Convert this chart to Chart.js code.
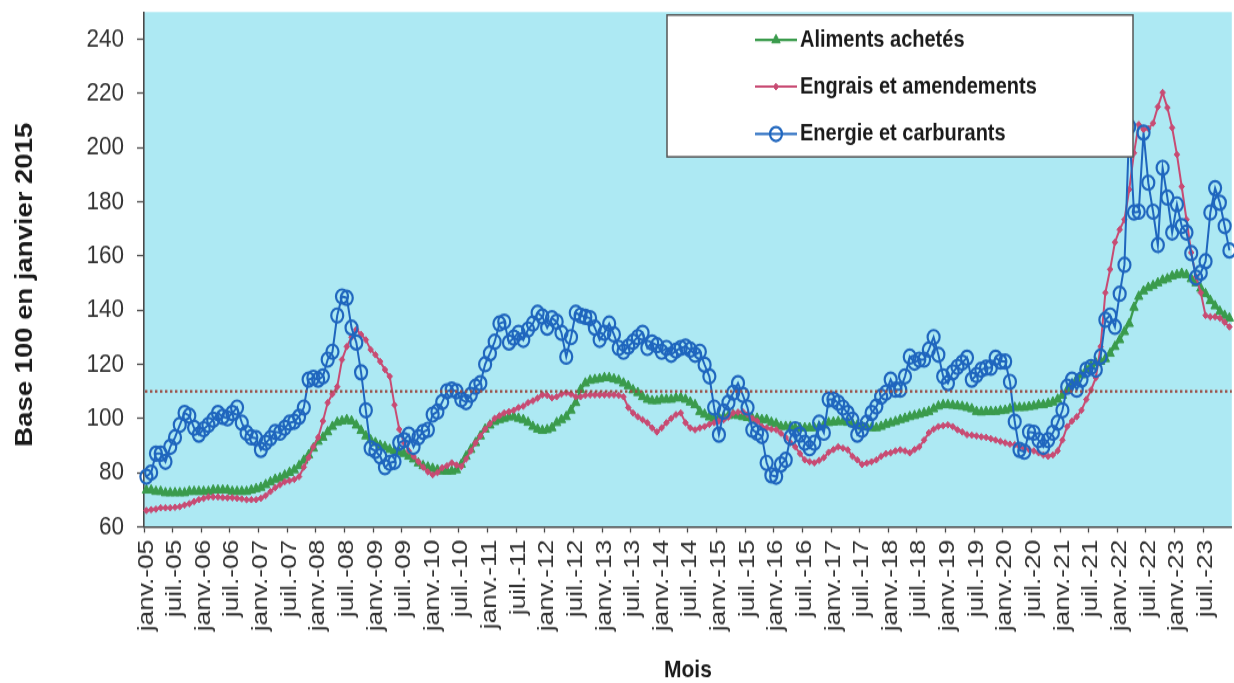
<!DOCTYPE html>
<html lang="fr">
<head>
<meta charset="utf-8">
<title>Prix des moyens de production agricole</title>
<script src="https://cdn.jsdelivr.net/npm/chart.js@4.4.1/dist/chart.umd.min.js"></script>
<style>
  html, body { margin: 0; padding: 0; background: #ffffff; overflow: hidden; width: 1234px; height: 683px; }
  /* the chart is laid out on a 584px-high canvas and stretched to the full page height */
  #frame { width: 1240px; height: 584px; transform: scaleY(1.1695); transform-origin: 0 0; }
  canvas { display: block; }
</style>
</head>
<body>
<div id="frame"><canvas id="chart" width="1240" height="584"></canvas></div>
<script>
// ---- categories ----
const MONTH_NAMES = ['janv.', 'févr.', 'mars', 'avr.', 'mai', 'juin', 'juil.', 'août', 'sept.', 'oct.', 'nov.', 'déc.'];
const FIRST_YEAR = 2005;
const LAST_YEAR = 2023;
const MONTHS = [];
for (let y = FIRST_YEAR; y <= LAST_YEAR; y++) {
  for (const m of MONTH_NAMES) MONTHS.push(m + '-' + String(y).slice(2));
}
// months that carry a tick label on the time axis
const LABELLED_MONTHS = ['janv.', 'juil.'];

// ---- value axis ----
const Y_MIN = 60;
const Y_MAX = 250;
const Y_STEP = 20;
const REF_LEVEL = 110;

// ---- series (base 100 en janvier 2015), one value per month, janv. 2005 -> déc. 2023 ----
const ALIMENTS = [
  73.5, 73.5, 73, 73, 72.5, 72.5, 72.5, 72.5, 72.5, 73, 73, 73,
  73, 73, 73.5, 73.5, 73.5, 73.5, 73, 73, 73, 73, 73.5, 74,
  74.5, 75.5, 76.5, 77.5, 78, 79, 80, 81, 82.5, 84.5, 86.5, 89,
  91.5, 93, 95, 97, 98.5, 99, 99.5, 99, 97.5, 95.5, 93.5, 92,
  91, 90, 89.5, 88.5, 88, 87.5, 87, 86, 85, 83.5, 82.5, 82,
  81.5, 81, 80.5, 80.5, 80.5, 81, 83, 86, 88.5, 91, 93.5, 96,
  97.5, 98.8, 99.5, 100, 100.5, 100.6, 100, 99.5, 98.5, 97, 96, 95.5,
  95.8, 96.5, 98.4, 99.5, 100.6, 103, 105.8, 110.6, 113, 114, 114.3, 114.6,
  115, 115, 114.5, 114, 113, 112, 110.5, 109.5, 108, 107, 106.5, 106.5,
  107, 107, 107, 107.5, 107.6, 107, 106, 105, 102.5, 101.5, 100.5, 100,
  100.3, 100.6, 101, 101.4, 101, 100.6, 100.3, 100, 100, 99.5, 99.5, 98.5,
  98, 97, 97, 97, 96.5, 96.5, 96.5, 96.5, 96.5, 97, 97.5, 98.4,
  98.6, 98.8, 98.8, 98.5, 98, 97.5, 97, 96.8, 96.5, 96.5, 97, 97.8,
  98.3, 98.8, 99.5, 100, 100.6, 101, 101.5, 102, 102.5, 103.5, 104.5, 105,
  105, 104.8, 104.6, 104.4, 104, 103.5, 102.5, 102.3, 102.5, 102.5, 102.5, 102.8,
  103, 103.5, 104, 104, 104, 104.3, 104.5, 105, 105, 105.5, 106, 107,
  108.5, 110.5, 112.5, 114.5, 116, 118, 119.5, 120.5, 121, 122, 124, 126.5,
  129, 132, 135, 141, 145, 147, 148.3, 149, 150, 151, 151.5, 152.5,
  153, 153.5, 153, 151.5, 150, 148, 146, 143.5, 141.5, 139.5, 138, 137
];

const ENGRAIS = [
  66, 66.3, 66.5, 67, 67, 67, 67.2, 67.4, 68, 68.5, 69.3, 70,
  70.5, 71, 71, 71, 70.8, 70.7, 70.7, 70.5, 70.3, 70, 70, 70,
  70.5, 71.5, 73, 74.4, 75.5, 76.6, 77, 77.5, 78.5, 82, 85.5, 89.5,
  93, 99, 105.8, 109, 111.7, 121.7, 126.5, 130, 132.8, 131, 129, 125.4,
  123.5, 121, 118, 115.5, 105, 96, 91, 88, 86, 84, 82, 80.3,
  79.2, 80, 81.8, 82.5, 83.6, 82.8, 82.2, 85, 88, 91, 93.5, 96,
  98, 100, 101, 102, 102.5, 103, 104, 104.5, 105.8, 106.5, 107.5, 108.7,
  108.5, 107.6, 108, 109, 109.5, 109, 108, 108, 108.5, 108.7, 108.7, 108.7,
  108.7, 108.7, 108.7, 108.5, 108, 104, 102, 100.6, 99.5, 98.4, 96.5, 95,
  96.5, 98.4, 100, 101.4, 102, 98.4, 96.5, 95.8, 96.5, 97, 97.8, 98.4,
  99, 99.5, 100.5, 102, 102.3, 102.5, 101.5, 100, 99, 97, 96.5, 96,
  95.8, 94.5, 93, 91, 89.5, 87, 84.7, 84, 83.6, 84.5, 85.5, 87.5,
  88.5, 89.5, 89, 88.4, 86, 84.7, 83, 83.5, 84, 84.7, 86, 87,
  87.3, 88, 88.4, 88, 87.3, 88.5, 89.5, 92, 94.7, 96, 97, 97.3,
  97.6, 97, 95.8, 95, 94, 93.8, 93.5, 93.2, 93, 92.5, 92, 91.5,
  91, 90.5, 90.3, 89.5, 89, 88.5, 88, 87.3, 86.5, 86, 86.5, 88,
  92, 97, 99, 100.6, 103, 107, 110.5, 115, 126.5, 146.4, 155, 165,
  169.7, 173.4, 184.5, 198, 208.5, 206.6, 207, 209, 215, 220.3, 214.7, 207.3,
  197.4, 185.6, 173.4, 161.2, 152.3, 146.4, 138, 137.5, 137.5, 137, 135.5, 133.8
];

const ENERGIE = [
  78.5, 80, 87, 87, 84, 89.5, 93, 97.6, 102, 101, 96.5, 94,
  96, 97.6, 99.5, 102, 100.6, 100, 102, 104, 98.4, 94.7, 93, 92.7,
  88.4, 91, 92.7, 95, 94.7, 96.5, 98.4, 98.8, 100.6, 104, 114.3, 115,
  114.3, 115.5, 121.7, 124.6, 138, 145, 144.5, 133.5, 128, 117, 103, 89,
  88, 86, 82, 83.6, 84, 91, 92, 94, 89.5, 93, 95, 95.8,
  101.4, 102.5, 106, 110, 110.6, 110, 107, 106, 108.7, 111.7, 113, 120,
  124, 128.3, 135, 135.7, 128, 129.8, 131.6, 129, 132.8, 135, 139, 137.6,
  133.5, 137, 135.7, 131.6, 122.8, 130, 139, 138, 137.5, 137, 133.5, 129,
  131.6, 135, 131, 126, 124.6, 126.5, 128.3, 130, 131.6, 126, 128, 127,
  124.6, 126, 123.5, 125, 126, 126.5, 125.4, 123.5, 124.6, 119.8, 115.5, 104,
  94, 102.5, 105.8, 109.5, 113, 108.7, 104, 95.8, 94.7, 93.5, 83.6, 79,
  78.5, 83, 84.7, 93, 96, 94, 91, 89, 91, 98.4, 94.7, 107,
  107, 105.8, 104, 102, 99.5, 94, 95.8, 98.4, 102, 104.4, 108, 109.5,
  114.3, 110.6, 110.6, 115.5, 122.8, 120.6, 121.7, 121.7, 125.4, 130, 123.5, 115.5,
  113, 117, 119, 120.6, 122.4, 114.3, 116, 118, 118.7, 118.7, 122.4, 121,
  121, 113.5, 98.8, 88.4, 87.7, 95, 94.7, 92, 89.5, 92, 94.7, 98.4,
  103, 111.7, 114.3, 110.6, 114.3, 118, 119, 118, 122.8, 136.4, 138, 133.8,
  146, 156.7, 207.7, 176, 176.3, 205.5, 187, 176.3, 164, 192.5, 181.5, 168.6,
  179, 171, 168.6, 161, 152, 153.8, 158, 176, 185, 179.6, 171, 162
];

const FONT = '"Liberation Sans", Arial, Helvetica, sans-serif';
const PLOT_BG = '#ade9f3';
const AXIS_COLOR = '#4a4a4a';
const TEXT_COLOR = '#333333';

// geometry of the boxed legend (canvas pixels)
const LEGEND_LAYOUT = {
  left: 667, top: 12.8, width: 466, height: 121.3,
  rows: [34.2, 74.1, 114.6],
  sampleFrom: 755, sampleTo: 797, textX: 800
};

// light blue plot background
const plotBackground = {
  id: 'plotBackground',
  beforeDraw(chart) {
    const { ctx, chartArea: a } = chart;
    ctx.save();
    ctx.fillStyle = PLOT_BG;
    ctx.fillRect(a.left, a.top, a.right - a.left, a.bottom - a.top);
    ctx.restore();
  }
};

// dotted horizontal reference level
const referenceLine = {
  id: 'referenceLine',
  afterDatasetsDraw(chart) {
    const { ctx, chartArea: a, scales } = chart;
    const y = scales.y.getPixelForValue(REF_LEVEL);
    ctx.save();
    ctx.strokeStyle = '#9a4a40';
    ctx.lineWidth = 2.2;
    ctx.setLineDash([2.4, 2.6]);
    ctx.beginPath();
    ctx.moveTo(a.left + 1, y);
    ctx.lineTo(a.right, y);
    ctx.stroke();
    ctx.restore();
  }
};

// boxed legend in the upper part of the plot
const boxedLegend = {
  id: 'boxedLegend',
  afterDraw(chart) {
    const L = LEGEND_LAYOUT;
    const { ctx } = chart;
    ctx.save();
    ctx.fillStyle = '#ffffff';
    ctx.fillRect(L.left, L.top, L.width, L.height);
    ctx.strokeStyle = '#555555';
    ctx.lineWidth = 1.5;
    ctx.strokeRect(L.left, L.top, L.width, L.height);
    chart.data.datasets.forEach((ds, i) => {
      const y = L.rows[i];
      const cx = (L.sampleFrom + L.sampleTo) / 2;
      ctx.setLineDash([]);
      ctx.strokeStyle = ds.borderColor;
      ctx.lineWidth = ds.borderWidth;
      ctx.beginPath();
      ctx.moveTo(L.sampleFrom, y);
      ctx.lineTo(L.sampleTo, y);
      ctx.stroke();
      ctx.fillStyle = ds.pointBackgroundColor;
      ctx.strokeStyle = ds.pointBorderColor;
      ctx.lineWidth = ds.pointBorderWidth;
      Chart.helpers.drawPoint(ctx, {
        pointStyle: ds.pointStyle,
        radius: ds.pointRadius,
        borderWidth: ds.pointBorderWidth,
        rotation: 0
      }, cx, y);
      ctx.fillStyle = '#1a1a1a';
      ctx.font = 'bold 20px ' + FONT;
      ctx.textAlign = 'left';
      ctx.textBaseline = 'middle';
      ctx.fillText(ds.label, L.textX, y);
    });
    ctx.restore();
  }
};

new Chart(document.getElementById('chart'), {
  type: 'line',
  data: {
    labels: MONTHS,
    datasets: [
      {
        label: 'Aliments achetés',
        data: ALIMENTS,
        borderColor: '#3a9b4c',
        backgroundColor: '#3a9b4c',
        borderWidth: 2.2,
        pointStyle: 'triangle',
        pointRadius: 4.8,
        pointBackgroundColor: '#3a9b4c',
        pointBorderColor: '#3a9b4c',
        pointBorderWidth: 1,
        order: 3,
        clip: false
      },
      {
        label: 'Engrais et amendements',
        data: ENGRAIS,
        borderColor: '#c84b73',
        backgroundColor: '#c84b73',
        borderWidth: 2,
        pointStyle: 'rectRot',
        pointRadius: 2.8,
        pointBackgroundColor: '#c84b73',
        pointBorderColor: '#c84b73',
        pointBorderWidth: 1,
        order: 2,
        clip: false
      },
      {
        label: 'Energie et carburants',
        data: ENERGIE,
        borderColor: '#1f66be',
        backgroundColor: '#1f66be',
        borderWidth: 2,
        pointStyle: 'circle',
        pointRadius: 6,
        pointBackgroundColor: 'rgba(0,0,0,0)',
        pointBorderColor: '#1f66be',
        pointBorderWidth: 2.2,
        order: 1,
        clip: false
      }
    ]
  },
  options: {
    responsive: false,
    animation: false,
    devicePixelRatio: 1,
    events: [],
    layout: { padding: { top: 10.3, left: 0, right: 0, bottom: 0 } },
    elements: { line: { tension: 0 } },
    scales: {
      x: {
        type: 'category',
        offset: true,
        afterFit(s) { s.height = 133.6; s.paddingLeft = 0; s.paddingRight = 0; },
        ticks: {
          autoSkip: false,
          minRotation: 90,
          maxRotation: 90,
          padding: 6,
          color: TEXT_COLOR,
          font: { size: 22.5, family: FONT },
          callback(value) {
            const lab = this.getLabelForValue(value);
            return LABELLED_MONTHS.some(m => lab.startsWith(m + '-')) ? lab : '';
          }
        },
        grid: {
          offset: true,
          drawOnChartArea: false,
          drawTicks: true,
          tickLength: 5,
          tickWidth: 1.3,
          tickColor: c => (c.index % 6 === 0 ? AXIS_COLOR : 'rgba(0,0,0,0)')
        },
        border: { display: true, color: AXIS_COLOR, width: 1.6 },
        title: {
          display: true,
          text: 'Mois',
          color: '#1a1a1a',
          font: { size: 21, weight: 'bold', family: FONT, lineHeight: 1 },
          padding: { top: 0, bottom: 0 }
        }
      },
      y: {
        min: Y_MIN,
        max: Y_MAX,
        afterFit(s) { s.width = 144; s.paddingTop = 0; s.paddingBottom = 0; },
        ticks: {
          stepSize: Y_STEP,
          includeBounds: false,
          padding: 13,
          color: TEXT_COLOR,
          font: { size: 22.5, family: FONT }
        },
        grid: {
          drawOnChartArea: false,
          drawTicks: true,
          tickLength: 7,
          tickWidth: 1.3,
          tickColor: AXIS_COLOR
        },
        border: { display: true, color: AXIS_COLOR, width: 1.6 },
        title: {
          display: true,
          text: 'Base 100 en janvier 2015    ',
          color: '#1a1a1a',
          font: { size: 23.5, weight: 'bold', family: FONT },
          padding: { top: 11, bottom: 0 }
        }
      }
    },
    plugins: {
      legend: { display: false },
      tooltip: { enabled: false }
    }
  },
  plugins: [plotBackground, referenceLine, boxedLegend]
});
</script>
</body>
</html>
